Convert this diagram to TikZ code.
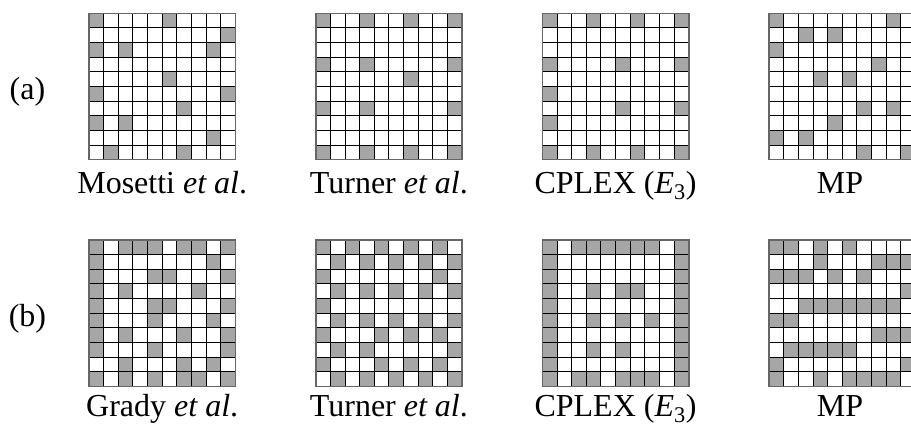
\documentclass[tikz,border=0pt]{standalone}
\usepackage{fontspec}
\setmainfont{Liberation Serif}
\def\cs{14.63}
\tikzset{
  cellfill/.style={fill=black!35},
  gridline/.style={draw=black, line width=0.9pt},
  frameline/.style={draw=black!60, line width=1.6pt},
  lbl/.style={font=\fontsize{32}{38}\selectfont, anchor=base, inner sep=0pt},
}
\newcommand{\drawfarm}[3]{%
  \begin{scope}[shift={(#1,#2)}]
    \foreach \r/\c in {#3} {\fill[cellfill] (\c*\cs,\r*\cs) rectangle ++(\cs,\cs);}
    \foreach \i in {1,...,9} {
      \draw[gridline] (\i*\cs,0) -- (\i*\cs,10*\cs);
      \draw[gridline] (0,\i*\cs) -- (10*\cs,\i*\cs);
    }
    \draw[frameline] (0,0) rectangle (10*\cs,10*\cs);
  \end{scope}}
\begin{document}
\begin{tikzpicture}[x=1pt,y=-1pt]
\useasboundingbox (0,0) rectangle (911,426);
\fill[white] (0,0) rectangle (911,426);
\clip (0,0) rectangle (911,426);
% row (a)
\drawfarm{89}{13.3}{0/0,0/5,1/9,2/0,2/2,2/8,4/5,5/0,5/9,6/6,7/0,7/2,8/8,9/1,9/6}
\drawfarm{315.7}{13.3}{0/0,0/3,0/6,0/9,3/0,3/3,3/9,4/6,6/0,6/3,6/9,9/0,9/3,9/6,9/9}
\drawfarm{542.4}{13.3}{0/0,0/3,0/6,0/9,3/0,3/5,3/9,5/0,6/5,6/9,7/0,9/0,9/3,9/6,9/9}
\drawfarm{769.1}{13.3}{0/0,0/8,1/2,1/4,2/0,3/7,4/3,4/5,6/6,6/8,7/4,8/0,8/2,9/6,9/9}
% row (b)
\drawfarm{89}{240}{0/0,0/2,0/3,0/4,0/6,0/7,0/9,1/0,1/8,2/0,2/4,2/5,2/9,3/0,3/2,3/7,4/0,4/4,4/5,4/9,5/0,5/4,5/8,6/0,6/2,6/6,6/9,7/0,7/4,7/9,8/2,8/6,8/8,9/0,9/2,9/4,9/6,9/7,9/9}
\drawfarm{315.7}{240}{0/0,0/2,0/4,0/6,0/8,1/1,1/3,1/5,1/7,1/9,2/0,2/8,3/1,3/3,3/5,3/7,3/9,4/0,5/1,5/3,5/5,5/7,5/9,6/0,6/4,6/6,6/8,7/1,7/3,7/9,8/0,8/4,8/6,8/8,9/1,9/3,9/5,9/7,9/9}
\drawfarm{542.4}{240}{0/0,0/2,0/3,0/4,0/5,0/6,0/7,0/9,1/0,1/9,2/0,2/9,3/0,3/9,4/0,4/9,5/0,5/9,6/0,6/9,7/0,7/9,8/0,8/9,3/3,3/5,3/6,5/3,5/5,5/7,7/3,7/5,9/0,9/2,9/3,9/5,9/6,9/7,9/9}
\drawfarm{769.1}{240}{0/0,0/1,0/3,0/5,1/3,1/7,1/8,1/9,2/0,2/1,2/2,2/4,2/6,3/9,4/2,4/3,4/4,4/5,4/6,4/7,4/8,5/0,5/1,6/7,6/8,6/9,7/1,7/2,7/3,7/4,7/5,8/0,8/9,9/0,9/3,9/5,9/6,9/7,9/8}
% labels
\node[lbl] (rowa) at (27.5,99) {(a)};
\node[lbl] (rowb) at (27.5,326) {(b)};
\node[lbl] (la1) at (162.2,193) {Mosetti \textit{et al}.};
\node[lbl] (la2) at (388.9,193) {Turner \textit{et al}.};
\node[lbl] (la3) at (615.5,193) {CPLEX (\textit{E}\textsubscript{3})};
\node[lbl] (la4) at (840,193) {MP};
\node[lbl] (lb1) at (162.2,416.5) {Grady \textit{et al}.};
\node[lbl] (lb2) at (388.9,416.5) {Turner \textit{et al}.};
\node[lbl] (lb3) at (615.5,416.5) {CPLEX (\textit{E}\textsubscript{3})};
\node[lbl] (lb4) at (840,416.5) {MP};
\end{tikzpicture}
\end{document}
